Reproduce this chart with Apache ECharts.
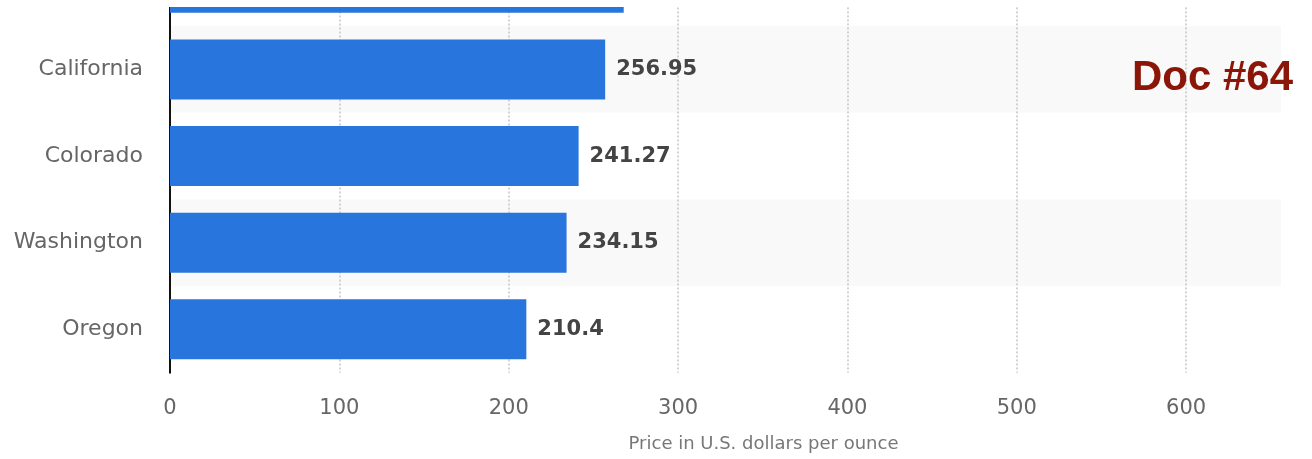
<!DOCTYPE html>
<html lang="en" style="height: 100%">
<head>
<meta charset="utf-8">
<title>Price per ounce by state</title>
</head>
<body style="height: 100%; margin: 0; overflow: hidden; position: relative">
<!-- the chart is shifted up so that its first bar is cut off by the page top -->
<div id="container" style="position: absolute; left: 0; top: -65px; width: 1312px; height: 524px"></div>

<script type="text/javascript" src="https://cdn.jsdelivr.net/npm/echarts/dist/echarts.min.js"></script>

<script type="text/javascript">

var dom = document.getElementById('container');
var myChart = echarts.init(dom, null, {
    renderer: 'canvas',
    useDirtyRect: false
});
var option;

// Data (top bar is cut off, its name isn't visible)
var states = ['Nevada', 'California', 'Colorado', 'Washington', 'Oregon'];
var prices = [267.9, 256.95, 241.27, 234.15, 210.4];
var xTicks = [0, 100, 200, 300, 400, 500, 600];

var fontFamily = '"DejaVu Sans", sans-serif';
var shift = 65; // px hidden above the window

option = {
    animation: false,
    grid: {
        left: 170,
        right: 31,
        top: 4.4,
        bottom: 86.3
    },
    xAxis: {
        type: 'value',
        min: xTicks[0],
        max: 656,
        interval: xTicks[1] - xTicks[0],
        name: 'Price in U.S. dollars per ounce',
        nameLocation: 'middle',
        nameGap: 63,
        nameTextStyle: {
            color: '#777',
            fontSize: 18,
            fontFamily: fontFamily,
            padding: [0, 0, 0, 76]
        },
        axisLine: { show: false },
        axisTick: { show: false },
        axisLabel: {
            color: '#666',
            fontSize: 21,
            fontFamily: fontFamily,
            margin: 25,
            showMaxLabel: false
        },
        splitLine: {
            show: true,
            showMaxLine: false,
            lineStyle: {
                color: '#c4c4c4',
                type: [2, 2],
                width: 1.5
            }
        }
    },
    yAxis: {
        type: 'category',
        inverse: true,
        data: states,
        axisLine: {
            show: true,
            lineStyle: { color: '#111', width: 2 }
        },
        axisTick: { show: false },
        axisLabel: {
            color: '#666',
            fontSize: 22,
            fontFamily: fontFamily,
            margin: 27
        },
        splitArea: {
            show: true,
            areaStyle: { color: ['#ffffff', '#f9f9f9'] }
        }
    },
    series: [
        {
            name: 'Price',
            type: 'bar',
            data: prices,
            barWidth: 60,
            itemStyle: { color: '#2876dd' },
            label: {
                show: true,
                position: 'right',
                distance: 11,
                color: '#444',
                fontSize: 21,
                fontWeight: 'bold',
                fontFamily: fontFamily
            }
        }
    ],
    graphic: [
        {
            type: 'rect',
            left: 0,
            top: shift,
            z: 100,
            shape: { width: 1312, height: 7 },
            style: { fill: '#ffffff' }
        },
        {
            type: 'text',
            right: 19,
            top: shift + 57,
            z: 101,
            style: {
                text: 'Doc #64',
                fill: '#8b1608',
                font: 'bold 42px "Liberation Sans", Arial, sans-serif'
            }
        }
    ]
};

if (option && typeof option === 'object') {
    myChart.setOption(option);
}

window.addEventListener('resize', myChart.resize);
</script>
</body>
</html>
